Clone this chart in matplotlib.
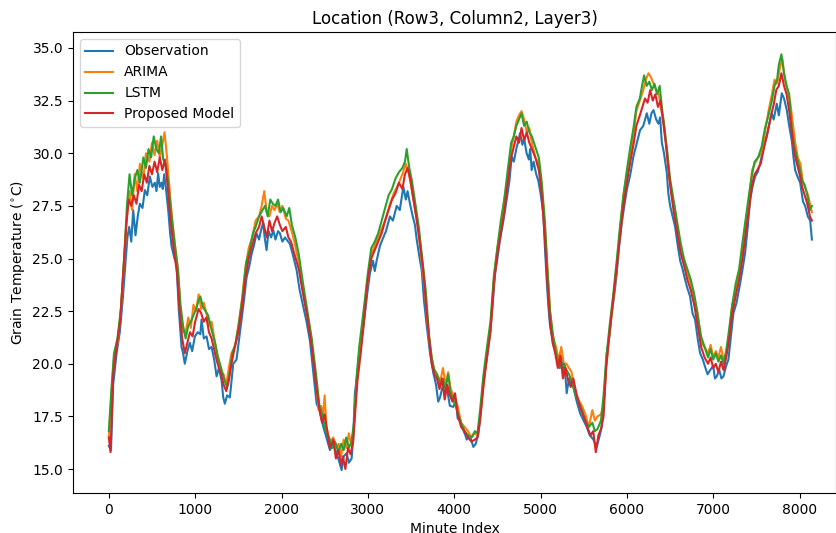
import matplotlib
matplotlib.use("Agg")
import matplotlib.pyplot as plt

# ---------------- data ----------------
obs_t = [0, 25, 50, 90, 127, 160, 190, 215, 236, 260, 282, 309, 335, 359, 390, 417, 445, 475, 505, 533,
         552, 571, 590, 610, 625, 641, 665, 688, 710, 726, 760, 784, 810, 842, 860, 880, 910, 939, 965, 997,
         1030, 1060, 1074, 1100, 1132, 1160, 1190, 1220, 1248, 1275, 1306, 1325, 1344, 1370, 1402, 1441,
         1479, 1510, 1537, 1565, 1595, 1625, 1653, 1680, 1711, 1740, 1760, 1788, 1805, 1827, 1850, 1880,
         1904, 1930, 1960, 1981, 2010, 2040, 2058, 2097,
         2130, 2175, 2210, 2252, 2290, 2329, 2370, 2407, 2440, 2484, 2520, 2561, 2600, 2638, 2665, 2696,
         2720, 2754, 2780, 2812, 2830, 2850, 2880, 2908, 2940, 2966, 2995, 3024, 3060, 3080, 3102, 3140,
         3179, 3210, 3256, 3290, 3334, 3370, 3411, 3440, 3460, 3488, 3520, 3545, 3566, 3600, 3624, 3650,
         3682, 3720, 3759, 3790, 3815, 3836, 3870, 3890, 3913, 3950, 3990, 4020, 4040, 4067, 4100, 4130, 4145,
         4180, 4222, 4250, 4280, 4310, 4338, 4380, 4415, 4445, 4473, 4500, 4531, 4570, 4608, 4640, 4666,
         4690, 4724, 4745, 4762, 4790, 4810, 4839, 4865, 4880, 4897, 4920, 4950, 4974, 5000, 5032, 5050,
         5071, 5090, 5110, 5150, 5187, 5220, 5240, 5264, 5280, 5303, 5330, 5355, 5380, 5420, 5458, 5500,
         5535, 5570, 5612, 5651, 5680, 5709, 5740, 5767, 5800, 5825, 5855, 5883, 5910, 5941, 5970, 5999,
         6040, 6076, 6110, 6153,
         6190, 6231, 6260, 6285, 6308, 6340, 6366, 6385, 6405, 6430, 6463, 6480, 6501, 6530, 6559, 6590,
         6617, 6645, 6674, 6700, 6732, 6760, 6790, 6820, 6848, 6880, 6906, 6935, 6964, 7000, 7020, 7041,
         7070, 7095, 7118, 7150, 7176, 7205, 7234, 7270, 7311, 7340, 7369, 7400, 7427, 7455, 7485, 7515,
         7543, 7580, 7620, 7650, 7678, 7700, 7736, 7760, 7794, 7820, 7852, 7880, 7910, 7930, 7949, 7975,
         8007, 8040, 8065, 8095, 8123, 8143]
obs_v = [16.1, 15.9, 19.0, 20.5, 21.5, 23.0, 24.6, 26.0, 26.5, 25.8, 27.3, 26.1, 27.0, 27.6, 27.4, 28.25, 28.0, 28.9, 28.4, 28.6,
         28.2, 29.05, 28.4, 28.6, 28.3, 29.0, 28.2, 27.3, 26.2, 25.6, 25.0, 24.8, 22.6, 20.8, 20.5, 20.0, 20.6, 21.0, 20.6, 21.3,
         21.5, 21.4, 22.1, 21.2, 21.3, 20.7, 20.8, 20.2, 19.4, 19.8, 19.2, 18.4, 18.1, 18.5, 18.4, 20.0,
         20.2, 21.2, 22.1, 23.0, 24.1, 24.6, 25.2, 25.6, 26.2, 25.9, 26.3, 26.7, 26.0, 25.4, 26.3, 26.0,
         26.35, 25.9, 26.3, 26.2, 25.8, 26.0, 25.9, 25.7,
         25.2, 24.45, 23.5, 22.7, 22.0, 21.1, 19.5, 18.1, 17.8, 17.0, 16.5, 15.9, 16.2, 15.75, 15.4, 14.95,
         15.6, 15.75, 15.3, 15.5, 16.5, 18.6, 19.6, 20.5, 21.5, 22.4, 23.4, 24.3, 24.9, 24.4, 24.9, 25.6,
         26.0, 26.3, 27.0, 26.8, 27.5, 27.3, 28.4, 27.8, 28.2, 27.6, 27.0, 26.6, 25.9, 25.0, 24.45, 23.0,
         21.8, 20.5, 19.55, 19.0, 18.2, 18.4, 19.0, 18.5, 18.9, 18.0, 17.95, 18.3, 17.4, 17.3, 16.9, 16.6, 16.4,
         16.6, 16.05, 16.2, 16.7, 17.8, 19.2, 20.3, 21.45, 22.8, 24.3, 25.0, 25.9, 26.8, 27.8, 28.7, 29.85,
         29.6, 30.3, 30.6, 30.95, 30.4, 30.7, 30.0, 29.7, 30.2, 29.2, 29.6, 29.0, 28.7, 28.1, 27.15, 25.6,
         24.0, 22.8, 21.8, 20.9, 20.5, 19.8, 20.3, 19.55, 19.9, 18.6, 19.3, 19.0, 18.9, 18.2, 17.65, 17.3,
         17.0, 16.6, 16.4, 16.05, 16.5, 17.0, 18.6, 20.5, 21.4, 22.4, 23.3, 24.3, 25.6, 26.7, 27.5, 28.25,
         29.0, 29.85, 30.4, 31.1,
         31.3, 31.9, 31.4, 31.9, 32.05, 31.6, 31.4, 31.7, 30.5, 30.0, 29.05, 28.1, 27.5, 27.0, 26.5, 25.6,
         24.9, 24.5, 24.0, 23.6, 23.2, 22.4, 22.1, 21.2, 20.5, 20.2, 19.85, 19.5, 19.7, 19.9, 19.3, 19.4,
         19.7, 19.3, 19.4, 19.9, 20.2, 21.3, 22.4, 22.9, 23.8, 24.5, 25.25, 26.5, 27.8, 28.4, 28.9, 29.1,
         29.5, 30.2, 30.8, 31.4, 31.9, 31.6, 32.35, 31.8, 32.85, 32.6, 32.05, 31.3, 30.6, 29.8, 29.2, 28.9,
         28.6, 27.7, 27.5, 27.0, 26.8, 25.9]

arima_t = [0, 30, 60, 100, 140, 180, 210, 240, 270, 300, 330, 360, 400, 430, 470, 500, 530, 560, 590, 620,
           645, 670, 700, 730, 770, 800, 830, 860, 890, 920, 950, 980, 1010, 1040, 1070, 1100, 1130, 1160, 1190, 1230,
           1260, 1300, 1330, 1360, 1390, 1420, 1460, 1500, 1540, 1580, 1620, 1660, 1700, 1740, 1770, 1800, 1830, 1860, 1890, 1920,
           1950, 1980, 2010, 2050, 2080, 2110, 2150, 2200, 2250, 2300, 2350, 2400, 2430, 2460, 2480, 2500, 2520, 2560, 2600, 2630,
           2660, 2690, 2720, 2750, 2780, 2810, 2840, 2870, 2900, 2950, 3000, 3040, 3080, 3120, 3160, 3200, 3250, 3300, 3350, 3400,
           3440, 3470, 3500, 3540, 3580, 3620, 3660, 3700, 3730, 3760, 3800, 3840, 3870, 3900, 3930, 3960, 4000, 4040, 4080, 4120,
           4160, 4200, 4240, 4270, 4300, 4340, 4380, 4420, 4460, 4500, 4540, 4580, 4620, 4660, 4690, 4720, 4750, 4780, 4810, 4840,
           4870, 4900, 4940, 4980, 5010, 5050, 5080, 5110, 5140, 5180, 5210, 5240, 5270, 5300, 5330, 5360, 5400, 5440, 5480, 5520,
           5560, 5600, 5630, 5660, 5700, 5730, 5760, 5800, 5840, 5880, 5920, 5960, 6000, 6040, 6080, 6110, 6150, 6190, 6220, 6250,
           6280, 6310, 6340, 6370, 6400, 6430, 6460, 6490, 6520, 6550, 6580, 6620, 6660, 6700, 6740, 6780, 6820, 6860, 6900, 6940,
           6970, 7000, 7030, 7060, 7090, 7120, 7150, 7180, 7220, 7260, 7300, 7340, 7380, 7420, 7450, 7480, 7520, 7560, 7600, 7640,
           7680, 7710, 7740, 7770, 7800, 7830, 7860, 7890, 7920, 7950, 7980, 8010, 8040, 8070, 8100, 8130, 8143]
arima_v = [16.5, 18.5, 20.3, 21.0, 22.5, 25.0, 27.0, 28.2, 27.3, 29.0, 28.2, 29.5, 28.8, 30.0, 29.6, 30.5, 29.9, 30.6, 29.8, 30.4,
           31.0, 30.0, 28.5, 27.0, 25.5, 24.5, 22.5, 21.5, 21.5, 22.2, 21.7, 22.8, 22.5, 23.3, 22.6, 22.9, 22.4, 21.8, 22.0, 21.0,
           20.3, 19.6, 19.5, 19.0, 19.8, 20.5, 20.8, 21.8, 23.0, 24.5, 25.5, 26.0, 26.8, 27.0, 27.5, 28.2, 27.2, 27.0, 27.5, 27.3,
           27.6, 27.2, 27.5, 26.9, 26.8, 26.4, 25.8, 24.8, 23.5, 22.3, 21.0, 19.2, 17.8, 18.0, 17.5, 18.5, 17.0, 16.3, 16.5, 16.0,
           16.2, 15.6, 16.4, 16.0, 16.7, 16.1, 17.0, 19.2, 20.5, 22.3, 24.0, 25.2, 25.6, 26.0, 26.4, 26.8, 27.5, 28.1, 28.5, 29.0,
           29.5, 29.1, 28.5, 27.5, 26.5, 25.0, 23.5, 21.5, 20.5, 19.8, 19.5, 19.2, 19.8, 19.0, 19.6, 18.8, 18.4, 18.0, 17.2, 17.0,
           16.8, 16.5, 16.7, 16.6, 17.5, 19.0, 20.5, 21.6, 24.0, 25.5, 26.5, 27.8, 28.8, 30.2, 30.8, 31.5, 31.8, 32.0, 31.6, 31.0,
           31.2, 30.5, 29.8, 29.5, 28.5, 26.5, 24.5, 22.5, 21.3, 20.8, 20.2, 20.8, 20.0, 20.0, 19.8, 19.6, 18.7, 18.3, 18.0, 17.6,
           17.0, 17.8, 17.3, 17.5, 17.6, 18.0, 19.8, 21.5, 23.0, 24.5, 26.3, 28.0, 29.0, 30.0, 31.0, 32.0, 32.5, 33.0, 33.5, 33.8,
           33.6, 33.3, 33.0, 32.8, 32.0, 31.5, 30.2, 28.8, 28.0, 27.5, 26.5, 25.5, 25.0, 24.3, 23.8, 23.2, 22.4, 21.0, 20.8, 20.5,
           20.9, 20.3, 20.6, 20.3, 20.8, 20.2, 20.5, 21.2, 22.8, 23.5, 24.2, 25.5, 26.8, 28.0, 29.2, 29.5, 29.8, 30.0, 31.0, 32.0,
           32.8, 33.5, 33.3, 34.0, 34.5, 33.5, 33.0, 32.5, 31.5, 30.5, 29.8, 29.5, 28.6, 28.3, 28.0, 27.4, 27.2]

lstm_t = [0, 30, 60, 100, 140, 180, 210, 240, 270, 300, 330, 360, 400, 430, 460, 490, 520, 550, 580, 605,
          630, 660, 690, 720, 760, 800, 830, 860, 890, 920, 950, 980, 1010, 1040, 1060, 1090, 1120, 1150, 1190, 1230,
          1260, 1300, 1340, 1370, 1400, 1430, 1470, 1510, 1550, 1590, 1630, 1670, 1700, 1740, 1780, 1810, 1840, 1870, 1900, 1930,
          1960, 1990, 2020, 2060, 2090, 2120, 2160, 2200, 2250, 2300, 2350, 2400, 2440, 2480, 2510, 2550, 2590, 2620, 2660, 2690,
          2720, 2750, 2780, 2810, 2840, 2870, 2900, 2950, 3000, 3040, 3080, 3120, 3160, 3200, 3240, 3280, 3320, 3360, 3400, 3430,
          3450, 3480, 3510, 3550, 3590, 3630, 3670, 3710, 3740, 3770, 3800, 3840, 3870, 3900, 3930, 3960, 4000, 4040, 4080, 4120,
          4160, 4200, 4240, 4270, 4300, 4340, 4380, 4420, 4460, 4500, 4540, 4580, 4620, 4660, 4690, 4720, 4750, 4780, 4810, 4840,
          4870, 4900, 4940, 4980, 5010, 5050, 5080, 5110, 5140, 5180, 5210, 5240, 5270, 5300, 5330, 5360, 5400, 5440, 5480, 5520,
          5560, 5600, 5630, 5660, 5700, 5730, 5760, 5800, 5840, 5880, 5920, 5960, 6000, 6040, 6080, 6110, 6150, 6180, 6200, 6230,
          6260, 6290, 6320, 6350, 6380, 6410, 6440, 6470, 6500, 6540, 6580, 6620, 6660, 6700, 6740, 6780, 6820, 6860, 6900, 6940,
          6970, 7000, 7030, 7060, 7090, 7120, 7150, 7180, 7220, 7260, 7300, 7340, 7380, 7420, 7450, 7480, 7520, 7560, 7600, 7640,
          7680, 7710, 7740, 7760, 7790, 7820, 7850, 7880, 7910, 7940, 7970, 8000, 8030, 8060, 8090, 8120, 8143]
lstm_v = [16.8, 18.8, 20.5, 21.2, 22.6, 25.2, 27.5, 29.0, 28.0, 28.8, 29.2, 28.6, 29.8, 29.3, 30.2, 29.8, 30.8, 30.2, 30.0, 30.8,
          29.7, 29.5, 28.5, 27.3, 25.8, 24.5, 22.8, 21.8, 21.2, 21.8, 22.0, 22.3, 22.6, 23.0, 23.2, 22.7, 22.5, 22.3, 21.6, 21.0,
          20.4, 19.8, 19.2, 18.9, 19.6, 20.5, 21.0, 22.0, 23.2, 24.8, 25.4, 26.2, 26.5, 27.0, 27.3, 27.5, 27.0, 27.8, 27.6, 27.5,
          27.8, 27.2, 27.4, 27.0, 27.4, 26.6, 26.0, 25.2, 23.8, 22.5, 21.2, 19.5, 18.0, 17.5, 16.8, 16.5, 16.0, 16.3, 15.8, 16.2,
          15.9, 16.5, 16.0, 16.3, 17.2, 19.4, 20.8, 22.5, 24.3, 25.5, 25.8, 26.2, 26.8, 27.4, 28.0, 28.3, 28.8, 29.1, 29.3, 29.6,
          30.2, 29.3, 28.7, 27.6, 26.5, 25.0, 23.5, 21.3, 20.3, 19.7, 19.5, 19.0, 19.3, 18.8, 19.5, 18.6, 18.2, 17.7, 17.2, 16.8,
          16.6, 16.5, 16.8, 16.7, 17.8, 19.5, 20.8, 22.0, 24.2, 25.5, 26.8, 27.8, 29.2, 30.5, 30.8, 31.3, 31.6, 31.9, 31.3, 31.5,
          31.0, 30.8, 30.3, 29.8, 28.8, 26.8, 24.5, 22.5, 21.5, 20.5, 20.0, 19.8, 20.0, 19.7, 19.5, 19.2, 18.6, 18.2, 17.8, 17.3,
          17.0, 17.2, 16.8, 16.9, 17.3, 18.5, 20.2, 21.8, 23.2, 24.8, 26.5, 28.0, 29.2, 30.3, 31.3, 32.2, 32.6, 33.3, 33.7, 33.2,
          33.4, 33.0, 33.3, 32.8, 33.2, 32.0, 31.0, 30.0, 28.8, 27.8, 26.8, 25.8, 25.0, 24.5, 24.0, 23.3, 22.3, 21.3, 20.8, 20.3,
          20.7, 20.2, 20.5, 20.1, 20.4, 20.0, 20.6, 21.5, 22.8, 23.8, 24.5, 25.8, 27.0, 28.2, 29.0, 29.6, 29.8, 30.3, 31.2, 31.8,
          32.5, 33.2, 33.5, 34.2, 34.7, 33.8, 33.2, 32.8, 31.2, 30.3, 29.8, 29.3, 28.7, 28.5, 28.0, 27.3, 27.5]

prop_t = [0, 20, 50, 90, 130, 170, 200, 230, 260, 290, 320, 350, 380, 410, 440, 470, 500, 530, 560, 590,
          620, 650, 680, 710, 750, 790, 820, 850, 880, 910, 940, 970, 1000, 1040, 1070, 1100, 1130, 1160, 1190, 1230,
          1260, 1300, 1330, 1360, 1390, 1420, 1460, 1500, 1540, 1580, 1620, 1660, 1700, 1740, 1770, 1800, 1830, 1860, 1890, 1920,
          1950, 1980, 2010, 2050, 2080, 2110, 2150, 2200, 2250, 2300, 2350, 2400, 2440, 2470, 2500, 2530, 2560, 2600, 2630, 2660,
          2690, 2710, 2740, 2770, 2800, 2830, 2850, 2880, 2920, 2960, 3000, 3040, 3080, 3120, 3160, 3200, 3240, 3280, 3320, 3360,
          3400, 3430, 3460, 3490, 3520, 3560, 3600, 3640, 3680, 3710, 3740, 3770, 3800, 3830, 3860, 3890, 3920, 3950, 3980, 4010,
          4040, 4080, 4120, 4160, 4200, 4240, 4270, 4300, 4340, 4380, 4420, 4460, 4500, 4540, 4580, 4620, 4660, 4690, 4720, 4750,
          4780, 4810, 4840, 4870, 4900, 4940, 4980, 5010, 5050, 5080, 5110, 5140, 5170, 5200, 5230, 5260, 5290, 5320, 5350, 5380,
          5420, 5460, 5500, 5540, 5580, 5610, 5640, 5670, 5700, 5730, 5760, 5800, 5840, 5880, 5920, 5960, 6000, 6040, 6080, 6110,
          6150, 6180, 6210, 6240, 6270, 6300, 6330, 6360, 6390, 6420, 6450, 6480, 6510, 6540, 6580, 6620, 6660, 6700, 6740, 6780,
          6820, 6860, 6900, 6940, 6970, 7000, 7030, 7060, 7090, 7120, 7150, 7180, 7220, 7260, 7300, 7340, 7380, 7420, 7450, 7480,
          7510, 7550, 7590, 7630, 7670, 7700, 7730, 7760, 7790, 7820, 7850, 7880, 7910, 7940, 7970, 8000, 8030, 8060, 8090, 8120, 8143]
prop_v = [16.5, 15.8, 19.5, 20.8, 22.0, 24.5, 26.5, 27.8, 27.5, 28.0, 27.6, 28.5, 28.2, 29.0, 28.6, 29.4, 29.0, 29.6, 29.1, 29.8,
          29.2, 29.7, 28.5, 27.0, 25.5, 24.3, 22.5, 21.2, 20.5, 21.0, 21.5, 21.3, 22.0, 22.6, 22.4, 22.0, 22.2, 21.5, 21.2, 20.5,
          20.0, 19.5, 19.0, 18.7, 19.2, 20.0, 20.8, 21.5, 22.6, 24.0, 25.0, 25.6, 26.2, 26.5, 27.0, 26.5, 26.0, 26.8, 26.3, 26.7,
          27.0, 26.6, 26.3, 26.5, 26.0, 25.8, 25.2, 24.5, 23.3, 22.2, 20.8, 19.0, 17.8, 17.2, 17.6, 16.8, 16.0, 16.4, 15.5, 15.9,
          15.2, 15.6, 15.0, 16.0, 15.7, 16.3, 17.5, 19.2, 20.6, 22.2, 24.0, 25.0, 25.4, 25.8, 26.2, 26.8, 27.3, 27.8, 28.1, 28.6,
          28.3, 29.0, 29.3, 28.8, 28.0, 27.0, 25.8, 24.5, 22.5, 21.2, 20.0, 19.5, 19.3, 18.8, 19.3, 18.3, 19.0, 18.5, 18.2, 18.6,
          17.6, 17.0, 16.8, 16.5, 16.3, 16.4, 16.5, 17.3, 19.0, 20.3, 21.5, 23.8, 25.2, 26.2, 27.2, 28.6, 29.8, 30.3, 30.8, 30.5,
          31.2, 30.6, 31.0, 30.5, 30.2, 29.8, 29.2, 28.2, 26.0, 23.8, 22.0, 21.0, 20.5, 19.8, 20.4, 19.3, 19.8, 19.2, 18.9, 19.3,
          18.5, 17.9, 17.5, 17.0, 16.6, 16.8, 15.8, 16.6, 16.9, 17.5, 19.8, 21.5, 23.0, 24.5, 26.0, 27.5, 28.6, 29.6, 30.5, 31.3,
          31.8, 32.2, 32.6, 32.4, 33.0, 32.5, 32.8, 32.2, 32.5, 31.5, 30.5, 29.3, 28.2, 27.3, 26.3, 25.3, 24.7, 24.0, 23.5, 22.8,
          21.8, 20.8, 20.3, 20.0, 20.3, 19.8, 20.0, 19.6, 20.1, 19.7, 20.3, 21.0, 22.4, 23.2, 24.0, 25.0, 26.3, 27.5, 28.5, 29.0,
          29.2, 29.5, 30.3, 31.0, 31.8, 32.3, 33.0, 33.2, 33.8, 33.2, 32.8, 32.0, 31.0, 30.0, 29.5, 29.0, 28.4, 28.0, 27.6, 27.0, 26.8]

series_names = ["Observation", "ARIMA", "LSTM", "Proposed Model"]
x_ticks = [0, 1000, 2000, 3000, 4000, 5000, 6000, 7000, 8000]
y_ticks = [15.0, 17.5, 20.0, 22.5, 25.0, 27.5, 30.0, 32.5, 35.0]

# ---------------- figure ----------------
fig = plt.figure(figsize=(8.37, 5.33), dpi=100)
ax = fig.add_axes([0.087, 0.075, 0.912, 0.865])

colors = ["#1f77b4", "#ff7f0e", "#2ca02c", "#d62728"]
for (t, v), name, c in zip([(obs_t, obs_v), (arima_t, arima_v), (lstm_t, lstm_v), (prop_t, prop_v)],
                           series_names, colors):
    ax.plot(t, v, color=c, lw=1.5, label=name)

ax.set_xlim(-417, 8424)
ax.set_ylim(13.86, 35.76)
ax.set_xticks(x_ticks)
ax.set_yticks(y_ticks)
ax.set_title("Location (Row3, Column2, Layer3)", fontsize=12)
ax.set_xlabel("Minute Index")
ax.set_ylabel("Grain Temperature ($^{\\circ}$C)")
ax.legend(loc="upper left")

fig.savefig("out.png", dpi=100)
